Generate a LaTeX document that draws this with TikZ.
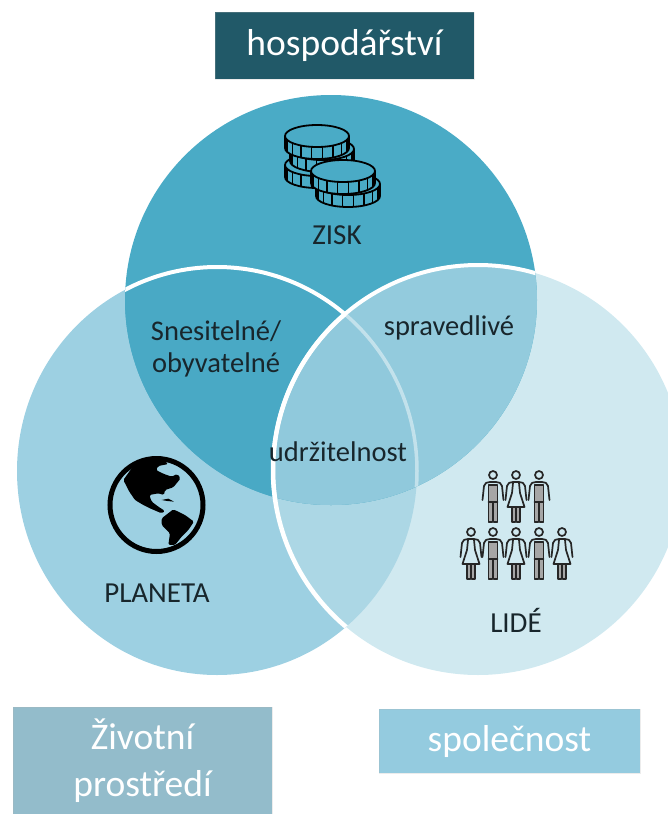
\documentclass[tikz,border=0pt]{standalone}
\usepackage{fontspec}
\setmainfont{Carlito}
\definecolor{topc}{HTML}{4AABC6}
\definecolor{leftc}{HTML}{9DD0E2}
\definecolor{rightc}{HTML}{D0E9F0}
\definecolor{lensc}{HTML}{ACD7E5}
\definecolor{centc}{HTML}{90C9DC}
\definecolor{tlc}{HTML}{49A9C5}
\definecolor{trc}{HTML}{93CBDD}
\definecolor{boxa}{HTML}{215968}
\definecolor{boxb}{HTML}{93BCCB}
\definecolor{boxc}{HTML}{94CBDF}
\definecolor{inkc}{HTML}{18262C}
\newcommand{\topcirc}{(331,300) ellipse [x radius=206pt,y radius=205pt]}
\newcommand{\leftcirc}{(217,471) ellipse [x radius=200pt,y radius=204pt]}
\newcommand{\rightcirc}{(478,470) circle [radius=205pt]}
\newcommand{\coin}[2]{%
  \fill[topc] (#1-32,#2) -- ++(0,12) arc[start angle=180,end angle=360,x radius=32pt,y radius=11pt] -- ++(0,-12) arc[start angle=0,end angle=180,x radius=32pt,y radius=11pt] -- cycle;
  \draw[coinline] (#1-32,#2) -- ++(0,12) arc[start angle=180,end angle=360,x radius=32pt,y radius=11pt] -- ++(0,-12);
  \foreach \a in {20,40,...,160} \draw[coinline,line width=1.3pt] ({#1+32*cos(\a)},{#2+11*sin(\a)}) -- ++(0,11);
  \draw[coinline] (#1,#2) ellipse [x radius=32pt,y radius=11pt];
}
\newcommand{\manicon}[2]{%
  \begin{scope}[shift={(#1,#2)}]
  \draw[person] (0,0) circle [radius=4pt];
  \filldraw[person,fill=gray!70] (-4.5,10) -- (-4.5,47) -- (-0.5,47) -- (-0.5,28) -- (0.5,28) -- (0.5,47) -- (4.5,47) -- (4.5,10) -- cycle;
  \draw[person] (-10.5,25) -- (-9,11) .. controls (-8.5,8) and (-6,7) .. (-3,7) -- (3,7) .. controls (6,7) and (8.5,8) .. (9,11) -- (10.5,25);
  \draw[person] (-4.5,27) -- (4.5,27);
  \end{scope}
}
\newcommand{\womanicon}[2]{%
  \begin{scope}[shift={(#1,#2)}]
  \draw[person] (0,0) circle [radius=4pt];
  \filldraw[person,fill=gray!70] (-4,32) -- (-4,47) -- (-0.5,47) -- (-0.5,32) -- (0.5,32) -- (0.5,47) -- (4,47) -- (4,32) -- cycle;
  \draw[person] (-3,8) -- (-4,18) -- (-8.5,32) -- (8.5,32) -- (4,18) -- (3,8);
  \draw[person] (-10.5,25) -- (-9,11) .. controls (-8.5,8) and (-6,7) .. (-3,7) -- (3,7) .. controls (6,7) and (8.5,8) .. (9,11) -- (10.5,25);
  \end{scope}
}
\tikzset{
  coinline/.style={draw=black,line width=1.8pt,line join=round},
  person/.style={draw=black!85,line width=1.7pt,line join=round,line cap=round},
  inlabel/.style={text=inkc,font=\fontsize{28.5}{30}\selectfont,inner sep=0pt,align=center},
  smalllabel/.style={text=inkc,font=\fontsize{29}{30}\selectfont,inner sep=0pt},
  headbox/.style={text=white,inner sep=0pt,align=center,font=\fontsize{37.5}{47}\selectfont,draw=white!70!black,draw opacity=.25,line width=.5pt},
  ringline/.style={draw=white,line width=4.5pt},
}
\begin{document}
\begin{tikzpicture}[x=1pt,y=-1pt]
\useasboundingbox (0,0) rectangle (668,814);
\begin{scope}
\clip (0,0) rectangle (668,814);
% filled regions
\fill[leftc] \leftcirc;
\fill[rightc] \rightcirc;
\begin{scope}\clip \leftcirc; \fill[lensc] \rightcirc; \end{scope}
\fill[topc] \topcirc;
\begin{scope}\clip \topcirc; \fill[tlc] \leftcirc; \fill[trc] \rightcirc;
  \clip \leftcirc; \fill[centc] \rightcirc; \end{scope}
% left ring: strong over the top circle, faint inside the centre
\begin{scope}\clip \topcirc;
  \begin{scope}[even odd rule]\clip (0,0) rectangle (668,814) \rightcirc;
    \draw[ringline,line width=4pt] \leftcirc;
  \end{scope}
  \begin{scope}\clip \rightcirc;
    \draw[ringline,line width=3.5pt,draw opacity=.45] \leftcirc;
  \end{scope}
\end{scope}
% right ring
\begin{scope}\clip \topcirc; \draw[ringline,line width=4pt] \rightcirc; \end{scope}
\begin{scope}\clip \leftcirc; \draw[ringline] \rightcirc; \end{scope}
\end{scope}
% label boxes
\node[headbox,fill=boxa,minimum width=259pt,minimum height=67pt] (hosp) at (344.5,45.5) {hospodářství};
\node[headbox,fill=boxb,minimum width=259pt,minimum height=107pt] (ziv) at (142.5,760.5) {Životní\\prostředí};
\node[headbox,fill=boxc,minimum width=261pt,minimum height=64pt] (spol) at (509.5,741) {společnost};
% coins
\coin{317}{165}
\coin{322}{149}
\coin{317}{136}
\coin{348}{184}
\coin{343}{171}
% globe
\begin{scope}
\begin{scope}[shift={(90,450)},x=0.3333pt,y=-0.3333pt]
\clip (199.5,165) circle [radius=47pt];
\fill[black,rounded corners=1.5pt] (100,90) -- (118,125) -- (135,150) -- (160,165) -- (180,175) -- (215,190) -- (225,183) -- (205,170) -- (185,155) -- (178,135) -- (205,130) -- (222,135) -- (225,120) -- (250,112) -- (272,85) -- (262,72) -- (245,80) -- (222,72) -- (198,60) -- (205,48) -- (235,42) -- (200,15) -- (150,20) -- cycle;
\fill[black] (215,150) -- (235,146) -- (252,155) -- (232,153) -- cycle;
\fill[black,rounded corners=1.5pt] (215,205) -- (250,178) -- (285,195) -- (312,215) -- (295,240) -- (275,260) -- (255,285) -- (235,285) -- (240,250) -- (215,225) -- cycle;
\end{scope}
\draw[black,line width=5pt] (156.5,505) circle [radius=46.5pt];
\end{scope}
% people
\manicon{493}{475}
\womanicon{516}{475}
\manicon{539}{475}
\womanicon{471}{532}
\manicon{493}{532}
\womanicon{516}{532}
\manicon{539}{532}
\womanicon{562}{532}
% labels
\node[smalllabel] (zisk) at (337,235) {ZISK};
\node[inlabel] (snes) at (216,331) {Snesitelné/};
\node[inlabel] (obyv) at (216,365) {obyvatelné};
\node[inlabel] (sprav) at (449,328) {spravedlivé};
\node[inlabel] (udrz) at (338,452) {udržitelnost};
\node[smalllabel] (plan) at (157,593) {PLANETA};
\node[smalllabel] (lide) at (516,620) {LIDÉ};
\end{tikzpicture}
\end{document}
